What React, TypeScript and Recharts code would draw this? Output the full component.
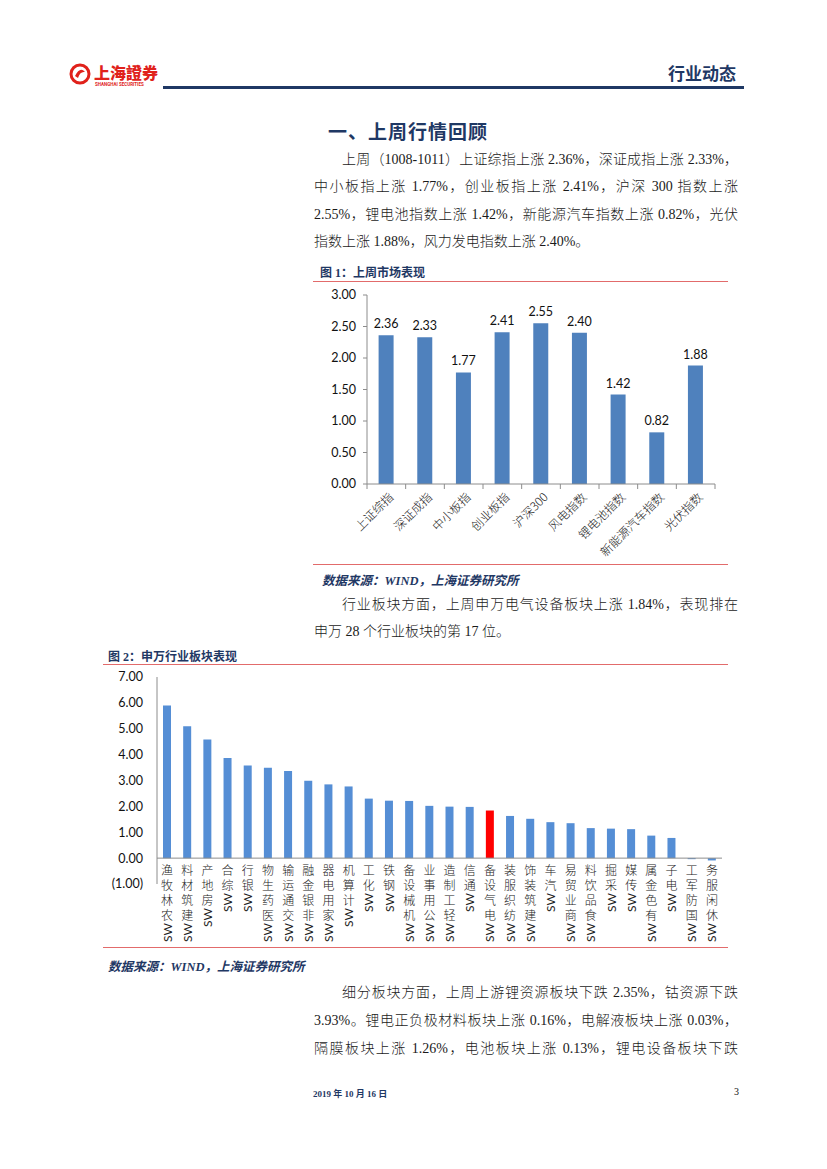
import React from 'react';
import { BarChart, Bar, XAxis, YAxis, LabelList, Cell, ReferenceLine } from 'recharts';

// ---------- data ----------
const marketCategories = ['上证综指', '深证成指', '中小板指', '创业板指', '沪深300', '风电指数', '锂电池指数', '新能源汽车指数', '光伏指数'];
const marketValues = [2.36, 2.33, 1.77, 2.41, 2.55, 2.40, 1.42, 0.82, 1.88];
const marketTicks = [0, 0.5, 1, 1.5, 2, 2.5, 3];

const swCategories = ['SW农林牧渔', 'SW建筑材料', 'SW房地产', 'SW综合', 'SW银行', 'SW医药生物', 'SW交通运输', 'SW非银金融', 'SW家用电器', 'SW计算机', 'SW化工', 'SW钢铁', 'SW机械设备', 'SW公用事业', 'SW轻工制造', 'SW通信', 'SW电气设备', 'SW纺织服装', 'SW建筑装饰', 'SW汽车', 'SW商业贸易', 'SW食品饮料', 'SW采掘', 'SW传媒', 'SW有色金属', 'SW电子', 'SW国防军工', 'SW休闲服务'];
const swValues = [5.90, 5.10, 4.58, 3.87, 3.58, 3.49, 3.37, 2.99, 2.85, 2.77, 2.30, 2.22, 2.21, 2.02, 1.99, 1.98, 1.84, 1.63, 1.52, 1.39, 1.35, 1.16, 1.14, 1.12, 0.87, 0.78, -0.04, -0.09];
const swTicks = [-1, 0, 1, 2, 3, 4, 5, 6, 7];
const highlightCategory = 'SW电气设备';

const marketData = marketCategories.map((name, i) => ({ name, value: marketValues[i] }));
const swData = swCategories.map((name, i) => ({ name, value: swValues[i] }));

// ---------- styles ----------
const NAVY = '#1F3864';
const RED_LINE = '#E26B6B';
const AXIS_GRAY = '#8C8C8C';
const BODY_FONT = '"Liberation Serif", "Noto Sans CJK SC", serif';
const CJK_FONT = '"Noto Sans CJK SC", sans-serif';
const NUM_FONT = 'Lato, "Noto Sans", sans-serif';

// chart 1 geometry
const C1_W = 420, C1_H = 282;
const C1_M = { top: 13, right: 15, left: 0, bottom: 0 };
const C1_YW = 57, C1_XH = 80;
const C1_PLOT_W = C1_W - C1_M.left - C1_M.right - C1_YW;

// chart 2 geometry
const C2_W = 625, C2_H = 282;
const C2_M = { top: 12, right: 6, left: 0, bottom: 0 };
const C2_YW = 54, C2_XH = 63;
const C2_PLOT_H = C2_H - C2_M.top - C2_M.bottom - C2_XH;
const C2_UNIT = C2_PLOT_H / (swTicks[swTicks.length - 1] - swTicks[0]);

const MarketTick = (props: any) => {
  const { x, y, payload, index } = props;
  const band = C1_PLOT_W / marketCategories.length;
  const ax = x + 4;
  const ay = y + 10;
  return (
    <g>
      <line x1={x - band / 2} x2={x - band / 2} y1={y} y2={y + 5} stroke={AXIS_GRAY} />
      {index === marketCategories.length - 1 && (
        <line x1={x + band / 2} x2={x + band / 2} y1={y} y2={y + 5} stroke={AXIS_GRAY} />
      )}
      <text
        x={ax}
        y={ay}
        transform={`rotate(-45, ${ax}, ${ay})`}
        textAnchor="end"
        dominantBaseline="central"
        fontSize={12}
        fontWeight={300}
        fontFamily={CJK_FONT}
        fill="#222"
      >
        {payload.value}
      </text>
    </g>
  );
};

const SwTick = (props: any) => {
  const { x, y, payload } = props;
  const label: string = payload.value;
  const latin = label.slice(0, 2);
  const chars = label.slice(2).split('');
  const step = 15;
  const top = y - C2_UNIT + 4;
  const n = chars.length;
  const swY = top + step * n + 1;
  return (
    <g>
      {chars
        .slice()
        .reverse()
        .map((c, j) => (
          <text
            key={j}
            x={x}
            y={top + step * j + step / 2}
            textAnchor="middle"
            dominantBaseline="central"
            fontSize={12}
            fontWeight={300}
            fontFamily={CJK_FONT}
            fill="#222"
          >
            {c}
          </text>
        ))}
      <text
        x={x}
        y={swY}
        transform={`rotate(-90, ${x}, ${swY})`}
        textAnchor="end"
        dominantBaseline="central"
        fontSize={12}
        fontFamily={NUM_FONT}
        fill="#222"
      >
        {latin}
      </text>
    </g>
  );
};

const fmt2 = (v: number) => (v < 0 ? `(${Math.abs(v).toFixed(2)})` : v.toFixed(2));

const Line = ({ top, left, width, children, justify = true, indent = 0, size = 14 }: any) => (
  <div
    style={{
      position: 'absolute',
      top: top - 10,
      left: left + indent,
      width: width - indent,
      height: 20,
      lineHeight: '20px',
      fontSize: size,
      fontFamily: BODY_FONT,
      fontWeight: 300,
      color: '#1a1a1a',
      whiteSpace: 'nowrap',
      textAlign: justify ? 'justify' : 'left',
      textAlignLast: justify ? 'justify' : 'left',
    } as React.CSSProperties}
  >
    {children}
  </div>
);

const Abs = ({ style, children }: any) => (
  <div style={{ position: 'absolute', whiteSpace: 'nowrap', ...style }}>{children}</div>
);

const HLine = ({ x1, x2, y, color, h = 1 }: any) => (
  <div style={{ position: 'absolute', left: x1, top: y, width: x2 - x1, height: h, background: color }} />
);

export default function App() {
  const TL = 314, TW = 424;
  return (
    <div style={{ position: 'absolute', left: 0, top: 0, width: 827, height: 1169, background: '#fff', overflow: 'hidden' }}>
      {/* header logo */}
      <svg style={{ position: 'absolute', left: 68, top: 60 }} width={130} height={34}>
        <circle cx={12} cy={14} r={9} fill="none" stroke="#E0211B" strokeWidth={3} />
        <path d="M7 16 Q12 6 17 12 Q12 11 10 18 Z" fill="#E0211B" />
        <text x={26} y={19} fontSize={16} fontWeight={900} fill="#E0211B" fontFamily={CJK_FONT}>
          上海證券
        </text>
        <text x={27} y={26} fontSize={4.5} fontWeight={700} fill="#E0211B" fontFamily="Roboto, sans-serif">
          SHANGHAI SECURITIES
        </text>
      </svg>
      <Abs style={{ left: 668, top: 60, fontSize: 17, fontWeight: 700, color: NAVY, fontFamily: CJK_FONT }}>行业动态</Abs>
      <HLine x1={163} x2={744} y={86} color="#1F3864" h={3} />

      {/* section title */}
      <Abs style={{ left: 328, top: 117, fontSize: 19, fontWeight: 700, color: NAVY, fontFamily: CJK_FONT, letterSpacing: 1 }}>
        一、上周行情回顾
      </Abs>

      {/* paragraph 1 */}
      <Line top={160} left={TL} width={TW} indent={28}>上周（1008-1011）上证综指上涨 2.36%，深证成指上涨 2.33%，</Line>
      <Line top={187} left={TL} width={TW}>中小板指上涨 1.77%，创业板指上涨 2.41%，沪深 300 指数上涨</Line>
      <Line top={215} left={TL} width={TW}>2.55%，锂电池指数上涨 1.42%，新能源汽车指数上涨 0.82%，光伏</Line>
      <Line top={242} left={TL} width={TW} justify={false}>指数上涨 1.88%，风力发电指数上涨 2.40%。</Line>

      {/* figure 1 */}
      <Abs style={{ left: 320, top: 263, fontSize: 12, fontWeight: 700, color: NAVY, fontFamily: BODY_FONT }}>图 1：上周市场表现</Abs>
      <HLine x1={313} x2={728} y={281} color={RED_LINE} />
      <div style={{ position: 'absolute', left: 310, top: 282, width: C1_W, height: C1_H }}>
        <BarChart width={C1_W} height={C1_H} data={marketData} margin={C1_M} barCategoryGap="30%">
          <XAxis
            dataKey="name"
            height={C1_XH}
            interval={0}
            tickSize={0}
            tickMargin={0}
            axisLine={{ stroke: AXIS_GRAY }}
            tickLine={false}
            tick={<MarketTick />}
          />
          <YAxis
            width={C1_YW}
            domain={[0, 3]}
            ticks={marketTicks}
            tickFormatter={fmt2}
            axisLine={{ stroke: AXIS_GRAY }}
            tickLine={{ stroke: AXIS_GRAY }}
            tickSize={4}
            tickMargin={7}
            tick={{ fontSize: 12.5, fill: '#111', fontFamily: NUM_FONT }}
          />
          <Bar dataKey="value" fill="#4F81BD" isAnimationActive={false}>
            <LabelList
              dataKey="value"
              position="top"
              offset={7}
              formatter={(v: any) => Number(v).toFixed(2)}
              style={{ fontSize: 12.5, fill: '#111', fontFamily: NUM_FONT }}
            />
          </Bar>
        </BarChart>
      </div>
      <HLine x1={313} x2={728} y={564} color={RED_LINE} />
      <Abs style={{ left: 322, top: 570, fontSize: 12.5, fontWeight: 700, fontStyle: 'italic', color: NAVY, fontFamily: BODY_FONT }}>
        数据来源：WIND，上海证券研究所
      </Abs>

      {/* paragraph 2 */}
      <Line top={605} left={TL} width={TW} indent={28}>行业板块方面，上周申万电气设备板块上涨 1.84%，表现排在</Line>
      <Line top={632} left={TL} width={TW} justify={false}>申万 28 个行业板块的第 17 位。</Line>

      {/* figure 2 */}
      <Abs style={{ left: 108, top: 647, fontSize: 12, fontWeight: 700, color: NAVY, fontFamily: BODY_FONT }}>图 2：申万行业板块表现</Abs>
      <HLine x1={103} x2={728} y={664} color={RED_LINE} />
      <div style={{ position: 'absolute', left: 103, top: 665, width: C2_W, height: C2_H }}>
        <BarChart width={C2_W} height={C2_H} data={swData} margin={C2_M} barSize={8}>
          <XAxis
            dataKey="name"
            height={C2_XH}
            interval={0}
            tickSize={0}
            tickMargin={0}
            axisLine={false}
            tickLine={false}
            tick={<SwTick />}
          />
          <YAxis
            width={C2_YW}
            domain={[-1, 7]}
            ticks={swTicks}
            tickFormatter={fmt2}
            axisLine={{ stroke: AXIS_GRAY }}
            tickLine={false}
            tickSize={0}
            tickMargin={14}
            tick={{ fontSize: 12.5, fill: '#111', fontFamily: NUM_FONT }}
          />
          <ReferenceLine y={0} stroke={AXIS_GRAY} />
          <Bar dataKey="value" fill="#558ED5" isAnimationActive={false}>
            {swData.map((d) => (
              <Cell key={d.name} fill={d.name === highlightCategory ? '#FF0000' : '#558ED5'} />
            ))}
          </Bar>
        </BarChart>
      </div>
      <HLine x1={103} x2={728} y={947} color={RED_LINE} />
      <Abs style={{ left: 108, top: 956, fontSize: 12.5, fontWeight: 700, fontStyle: 'italic', color: NAVY, fontFamily: BODY_FONT }}>
        数据来源：WIND，上海证券研究所
      </Abs>

      {/* paragraph 3 */}
      <Line top={993} left={TL} width={TW} indent={28}>细分板块方面，上周上游锂资源板块下跌 2.35%，钴资源下跌</Line>
      <Line top={1021} left={TL} width={TW}>3.93%。锂电正负极材料板块上涨 0.16%，电解液板块上涨 0.03%，</Line>
      <Line top={1049} left={TL} width={TW}>隔膜板块上涨 1.26%，电池板块上涨 0.13%，锂电设备板块下跌</Line>

      {/* footer */}
      <Abs style={{ left: 313, top: 1087, fontSize: 9, fontWeight: 700, color: NAVY, fontFamily: BODY_FONT }}>2019 年 10 月 16 日</Abs>
      <Abs style={{ left: 734, top: 1086, fontSize: 10, color: '#111', fontFamily: BODY_FONT }}>3</Abs>
    </div>
  );
}
